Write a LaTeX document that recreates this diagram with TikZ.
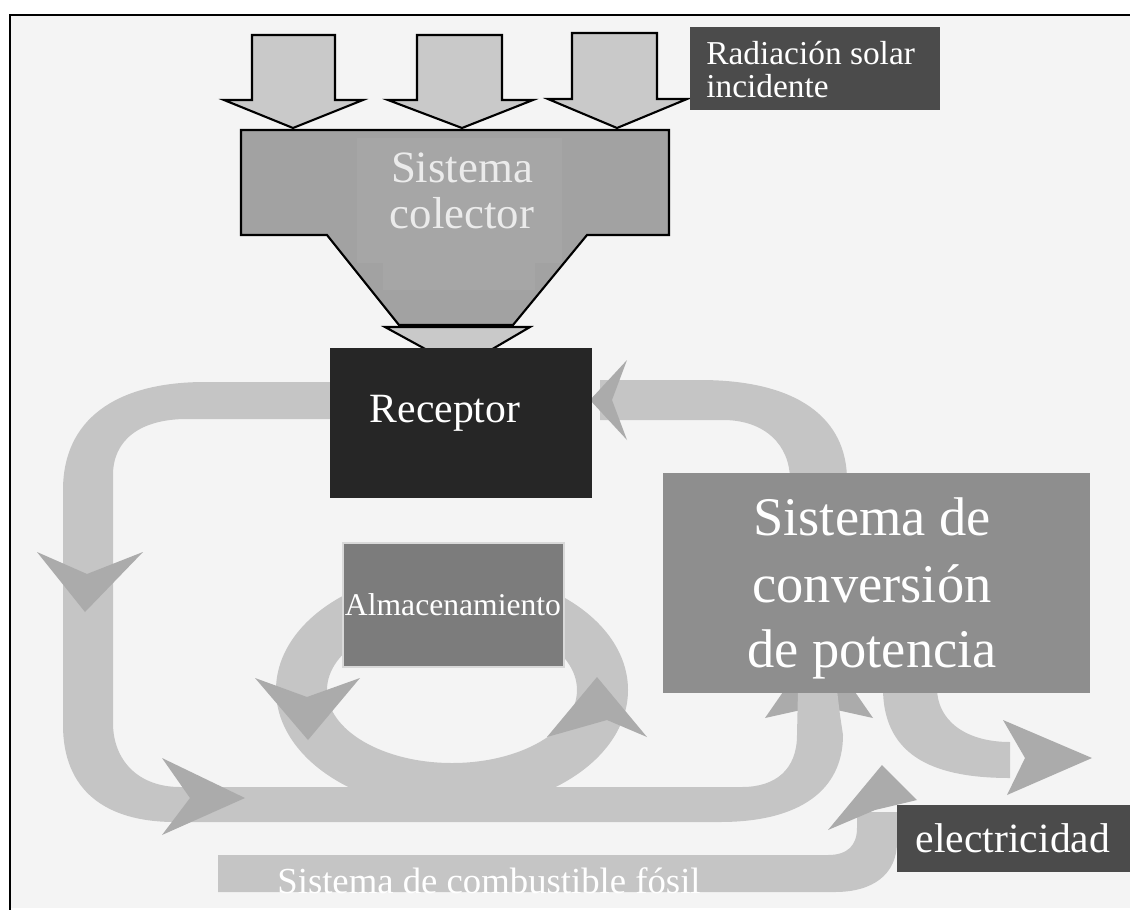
\documentclass[tikz,border=0pt]{standalone}
\usepackage{fontspec}
\setmainfont{Liberation Serif}
\usetikzlibrary{fit}
\definecolor{bg}{HTML}{F4F4F4}
\definecolor{band}{HTML}{C5C5C5}
\definecolor{head}{HTML}{ABABAB}
\definecolor{colfill}{HTML}{A2A2A2}
\definecolor{colmid}{HTML}{A6A6A6}
\definecolor{inarrow}{HTML}{C9C9C9}
\definecolor{recc}{HTML}{262626}
\definecolor{convc}{HTML}{8E8E8E}
\definecolor{almc}{HTML}{7C7C7C}
\definecolor{darkc}{HTML}{4B4B4B}
\begin{document}
\begin{tikzpicture}[x=0.02cm,y=-0.02cm,
  box/.style={inner sep=0pt, outer sep=0pt, draw=none},
  lbl/.style={inner sep=0pt, text=white},
  sunarrow/.style={fill=inarrow, draw=black, line width=1.2pt, line join=miter},
]
\useasboundingbox (0,0) rectangle (1130,910);
\fill[white] (0,0) rectangle (1130,910);
\fill[bg] (10,15) rectangle (1130,908);
\draw[line width=1.6pt] (10,910) -- (10,15) -- (1130,15);

% incoming solar arrows
\draw[sunarrow] (252,35) -- (335,35) -- (335,100) -- (363,100) -- (293,128) -- (224,100) -- (252,100) -- cycle;
\draw[sunarrow] (417,35) -- (502,35) -- (502,100) -- (533,100) -- (462,128) -- (388,100) -- (417,100) -- cycle;
\draw[sunarrow] (572,33) -- (657,33) -- (657,99) -- (687,99) -- (617,128) -- (548,99) -- (572,99) -- cycle;

% collector
\draw[sunarrow] (385,327) -- (530,327) -- (460,368) -- cycle;
\fill[colfill] (241,130) -- (669,130) -- (669,235) -- (587,235) -- (513,325) -- (399,325) -- (327,235) -- (241,235) -- cycle;
\fill[colmid] (357,138) rectangle (562,263);
\fill[colmid] (383,263) rectangle (535,290);
\draw[line width=1.2pt, line join=miter] (241,130) -- (669,130) -- (669,235) -- (587,235) -- (513,325) -- (399,325) -- (327,235) -- (241,235) -- cycle;

% arrowhead partly hidden under the band
\fill[head] (765,718) -- (819,706) -- (873,718) -- (819,640) -- cycle;

% bands
\fill[band] (340,382) -- (205,382) .. controls (115,382) and (63,420) .. (63,490) -- (63,725) .. controls (63,790) and (105,822) .. (175,822) -- (720,822) .. controls (800,822) and (843,790) .. (843,735) -- (840,715) -- (837,690) -- (798,690) -- (797,735) .. controls (797,770) and (775,787) .. (742,787) -- (180,787) .. controls (138,787) and (113,760) .. (113,723) -- (113,475) .. controls (113,440) and (140,419) .. (187,419) -- (340,419) -- cycle;
\fill[band] (600,380) -- (700,380) .. controls (800,380) and (847,420) .. (847,480) -- (790,480) .. controls (790,445) and (765,420) .. (723,420) -- (600,420) -- cycle;
\fill[band, even odd rule] (452,690) ellipse [x radius=176, y radius=120] (452,690) ellipse [x radius=125, y radius=73];
\fill[band] (883,688) .. controls (883,760) and (940,778) .. (1010,778) -- (1010,742) .. controls (965,742) and (937,720) .. (937,688) -- cycle;
\fill[band] (218,855) -- (828,855) .. controls (848,855) and (857,845) .. (857,828) -- (857,812) -- (897,812) -- (897,842) .. controls (897,875) and (872,892) .. (835,892) -- (218,892) -- cycle;

% arrowheads
\fill[head] (37,552) -- (87,574) -- (143,552) -- (85,612) -- cycle;
\fill[head] (162,758) -- (190,798) -- (162,835) -- (245,798) -- cycle;
\fill[head] (627,360) -- (612,400) -- (627,440) -- (590,400) -- cycle;
\fill[head] (255,678) -- (307,697) -- (360,678) -- (308,740) -- cycle;
\fill[head] (547,737) -- (607,720) -- (647,737) -- (597,677) -- cycle;
\fill[head] (1003,720) -- (1025,758) -- (1007,795) -- (1092,758) -- cycle;
\fill[head] (828,830) -- (875,810) -- (917,800) -- (882,765) -- cycle;

% boxes
\node[box, fill=darkc, fit={(690,27) (940,110)}] (rad) {};
\node[box, fill=recc, fit={(330,348) (592,498)}] (rec) {};
\node[box, fill=convc, fit={(663,473) (1090,693)}] (conv) {};
\node[box, fill=almc, draw=white!85!black, line width=0.6pt, fit={(343,543) (564,667)}] (alm) {};
\node[box, fill=darkc, fit={(897,805) (1130,872)}] (elec) {};

% texts
\node[lbl, anchor=base west, font=\fontsize{19}{23}\selectfont] (radA) at (706,64) {Radiación solar};
\node[lbl, anchor=base west, font=\fontsize{19}{23}\selectfont] (radB) at (706,97) {incidente};
\node[lbl, anchor=base, text=white!92!black, font=\fontsize{25.5}{30}\selectfont] (colA) at (462,182) {Sistema};
\node[lbl, anchor=base, text=white!92!black, font=\fontsize{25.5}{30}\selectfont] (colB) at (462,228) {colector};
\node[lbl, anchor=base, font=\fontsize{23.7}{28}\selectfont] (recT) at (445,422) {Receptor};
\node[lbl, anchor=base, font=\fontsize{31}{37}\selectfont] (convA) at (872,535) {Sistema de};
\node[lbl, anchor=base, font=\fontsize{31}{37}\selectfont] (convB) at (872,602) {conversión};
\node[lbl, anchor=base, font=\fontsize{31}{37}\selectfont] (convC) at (872,667) {de potencia};
\node[lbl, anchor=base, font=\fontsize{18}{22}\selectfont] (almT) at (453,615) {Almacenamiento};
\node[lbl, anchor=base, font=\fontsize{23.7}{28}\selectfont] (elecT) at (1013,852) {electricidad};
\node[lbl, anchor=base, font=\fontsize{20.9}{25}\selectfont] (fosT) at (489,893) {Sistema de combustible fósil};
\end{tikzpicture}
\end{document}
